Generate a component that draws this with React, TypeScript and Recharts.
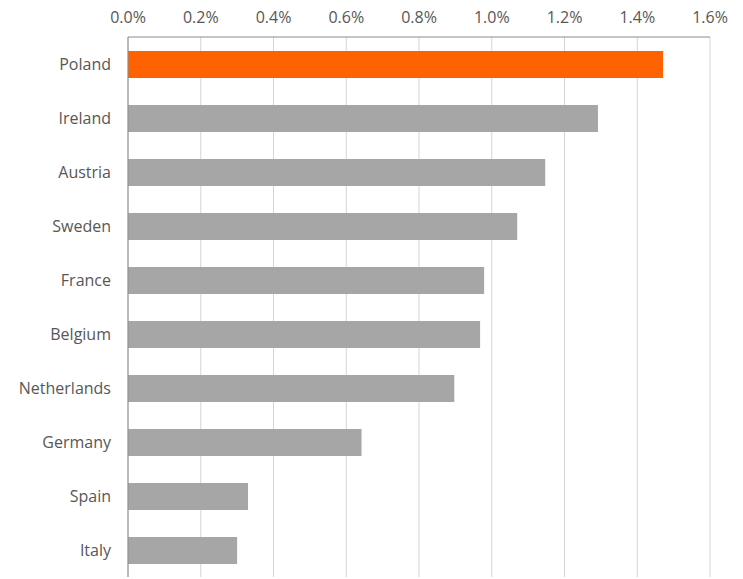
import { BarChart, Bar, XAxis, YAxis, CartesianGrid, Cell } from 'recharts';

const countries = ['Poland', 'Ireland', 'Austria', 'Sweden', 'France', 'Belgium', 'Netherlands', 'Germany', 'Spain', 'Italy'];
const shares = [1.471, 1.292, 1.147, 1.07, 0.979, 0.968, 0.897, 0.642, 0.33, 0.3];
const xTicks = [0, 0.2, 0.4, 0.6, 0.8, 1.0, 1.2, 1.4, 1.6];
const highlight = 'Poland';

const data = countries.map((name, i) => ({ name, value: shares[i] }));

const FONT = '"Open Sans", Lato, sans-serif';
const TEXT = '#575757';

export default function App() {
  return (
    <div style={{ position: 'absolute', left: 0, top: 0, background: '#fff' }}>
      <BarChart
        width={743}
        height={579}
        data={data}
        layout="vertical"
        margin={{ top: 0, right: 33, bottom: 2, left: 0 }}
        barSize={27}
      >
        <CartesianGrid horizontal={false} stroke="#d4d4d4" />
        <XAxis
          type="number"
          orientation="top"
          domain={[0, 1.6]}
          ticks={xTicks}
          height={37}
          tickFormatter={(v: number) => v.toFixed(1) + '%'}
          tickLine={false}
          tickSize={0}
          tickMargin={14}
          axisLine={{ stroke: '#8c8c8c' }}
          tick={{ fill: TEXT, fontSize: 16, fontFamily: FONT }}
          interval={0}
        />
        <YAxis
          type="category"
          dataKey="name"
          width={128}
          tickLine={false}
          tickSize={0}
          tickMargin={17}
          axisLine={{ stroke: '#8c8c8c' }}
          tick={{ fill: TEXT, fontSize: 16, fontFamily: FONT }}
          interval={0}
        />
        <Bar dataKey="value" isAnimationActive={false}>
          {data.map((d) => (
            <Cell key={d.name} fill={d.name === highlight ? '#ff6200' : '#a6a6a6'} />
          ))}
        </Bar>
      </BarChart>
    </div>
  );
}
